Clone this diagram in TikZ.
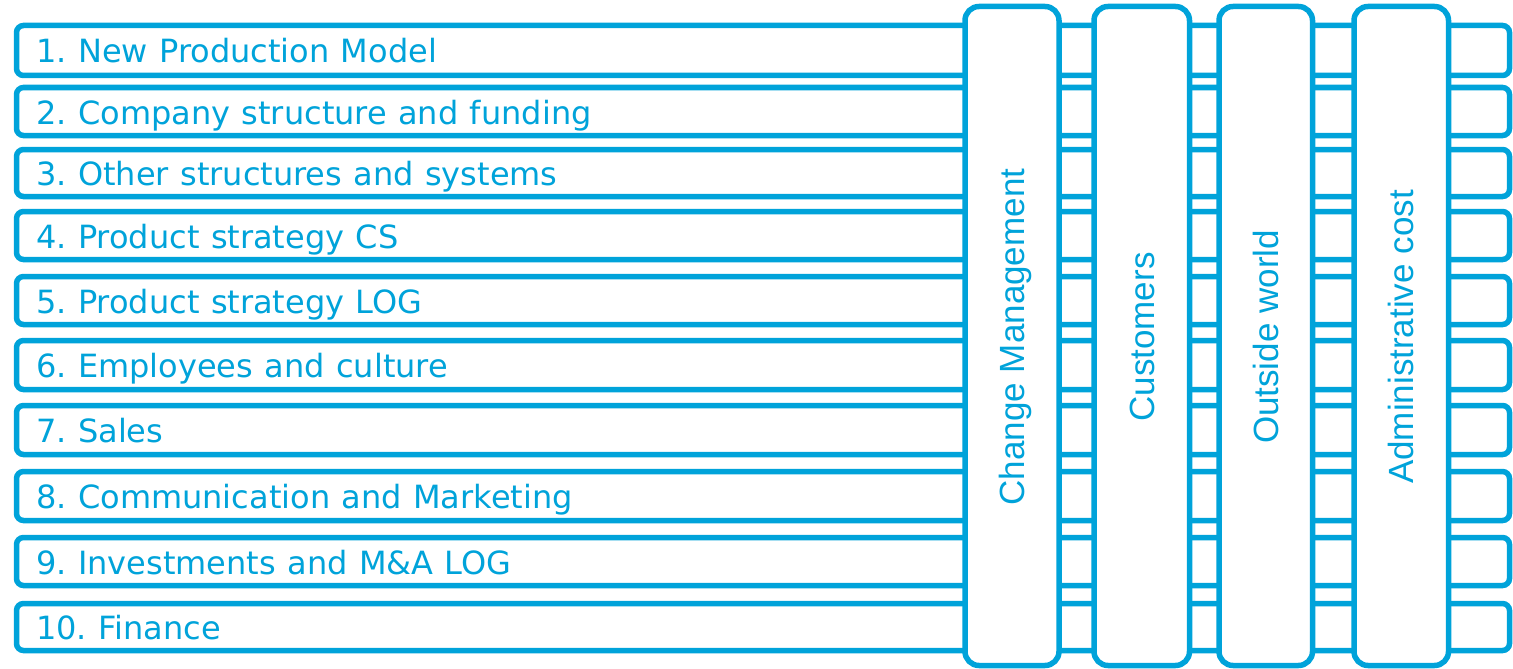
\documentclass[tikz,border=0pt]{standalone}
\usepackage{fontspec}
\setmainfont[WordSpace=1.12]{DejaVu Sans}
\newfontfamily\colfont{Liberation Sans}
\definecolor{bluebar}{RGB}{0,163,218}
\frenchspacing
\begin{document}
\begin{tikzpicture}[x=1pt,y=-1pt,
  rowbox/.style={draw=bluebar, line width=5.5pt, rounded corners=7pt, fill=white, inner sep=0pt, outer sep=0pt},
  colbox/.style={draw=bluebar, line width=5.5pt, rounded corners=14pt, fill=white, inner sep=0pt, outer sep=0pt},
  rowlabel/.style={anchor=base west, inner sep=0pt, text=bluebar, font=\fontsize{32}{38}\selectfont},
  collabel/.style={rotate=90, anchor=base, inner sep=0pt, text=bluebar, font=\colfont\fontsize{35}{42}\selectfont}]
\useasboundingbox (0,0) rectangle (1513,669);
% horizontal work streams: top, bottom, label
\foreach \i/\t/\b/\lab in {
  1/25.5/75.5/{1. New Production Model},
  2/87.5/135.5/{2. Company structure and funding},
  3/149.5/196.5/{3. Other structures and systems},
  4/211.5/259.5/{4. Product strategy CS},
  5/276.5/324.5/{5. Product strategy LOG},
  6/340.5/389.5/{6. Employees and culture},
  7/405.5/454.5/{7. Sales},
  8/471.5/520.5/{8. Communication and Marketing},
  9/537.5/585.5/{9. Investments and M\&A LOG},
  10/603.5/650.5/{10. Finance}}{
  \pgfmathsetmacro{\h}{\b-\t}
  \pgfmathsetmacro{\c}{(\b+\t)/2}
  \node[rowbox, minimum width=1493pt, minimum height=\h pt] (row\i) at (763,\c) {};
  \node[rowlabel] (rowtext\i) at (36,\c+12.5) {\lab};
}
% vertical cross-cutting themes: left, right, label
\foreach \j/\l/\r/\lab in {
  1/965/1059/{Change Management},
  2/1094/1189.5/{Customers},
  3/1219/1312.5/{Outside world},
  4/1354/1448.5/{Administrative cost}}{
  \pgfmathsetmacro{\w}{\r-\l}
  \pgfmathsetmacro{\m}{(\r+\l)/2}
  \node[colbox, minimum width=\w pt, minimum height=659pt] (col\j) at (\m,336) {};
  \node[collabel] (coltext\j) at (\m+12.5,337) {\lab};
}
\end{tikzpicture}
\end{document}
